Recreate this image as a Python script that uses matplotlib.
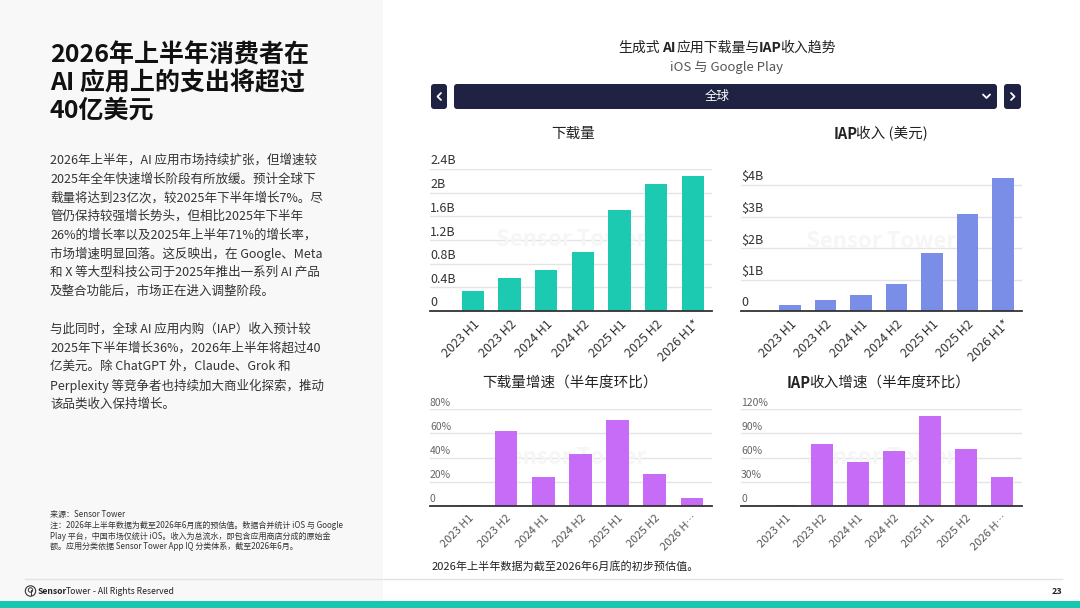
import matplotlib
matplotlib.use('Agg')
import matplotlib.pyplot as plt
from matplotlib.patches import Rectangle, FancyBboxPatch, Circle
from matplotlib import transforms
import numpy as np

plt.rcParams['font.family'] = ['Noto Sans CJK SC', 'DejaVu Sans']

# ---------------- data ----------------
periods = ["2023 H1", "2023 H2", "2024 H1", "2024 H2", "2025 H1", "2025 H2", "2026 H1*"]
growth_tick_labels = ["2023 H1", "2023 H2", "2024 H1", "2024 H2", "2025 H1", "2025 H2", "2026 H…"]
downloads_b = [0.34, 0.56, 0.70, 0.99, 1.70, 2.14, 2.29]
iap_revenue_b = [0.19, 0.34, 0.52, 0.87, 1.83, 3.09, 4.21]
download_growth_pct = [0.5, 62, 24, 43, 71, 26, 7]
iap_growth_pct = [1, 77, 54, 68, 111, 70, 36]

dl_ticks = [0, 0.4, 0.8, 1.2, 1.6, 2.0, 2.4]
dl_tick_labels = ["0", "0.4B", "0.8B", "1.2B", "1.6B", "2B", "2.4B"]
iap_ticks = [0, 1, 2, 3, 4]
iap_tick_labels = ["0", "$1B", "$2B", "$3B", "$4B"]
dlg_ticks = [0, 20, 40, 60, 80]
dlg_tick_labels = ["0", "20%", "40%", "60%", "80%"]
iapg_ticks = [0, 30, 60, 90, 120]
iapg_tick_labels = ["0", "30%", "60%", "90%", "120%"]

title_lines = ["2026年上半年消费者在", "AI 应用上的支出将超过", "40亿美元"]
para1 = ["2026年上半年，AI 应用市场持续扩张，但增速较",
         "2025年全年快速增长阶段有所放缓。预计全球下",
         "载量将达到23亿次，较2025年下半年增长7%。尽",
         "管仍保持较强增长势头，但相比2025年下半年",
         "26%的增长率以及2025年上半年71%的增长率，",
         "市场增速明显回落。这反映出，在 Google、Meta",
         "和 X 等大型科技公司于2025年推出一系列 AI 产品",
         "及整合功能后，市场正在进入调整阶段。"]
para2 = ["与此同时，全球 AI 应用内购（IAP）收入预计较",
         "2025年下半年增长36%，2026年上半年将超过40",
         "亿美元。除 ChatGPT 外，Claude、Grok 和",
         "Perplexity 等竞争者也持续加大商业化探索，推动",
         "该品类收入保持增长。"]
notes = ["来源：Sensor Tower",
         "注：2026年上半年数据为截至2026年6月底的预估值。数据合并统计 iOS 与 Google",
         "Play 平台，中国市场仅统计 iOS。收入为总流水，即包含应用商店分成的原始金",
         "额。应用分类依据 Sensor Tower App IQ 分类体系，截至2026年6月。"]

TEAL = '#1ccab1'
BLUE = '#7a8ee8'
PURPLE = '#c76cf7'
NAVY = '#1f2242'

W, H = 1080, 608
fig = plt.figure(figsize=(W / 100, H / 100), dpi=100)
fig.patch.set_facecolor('white')
renderer = fig.canvas.get_renderer()

bg = fig.add_axes([0, 0, 1, 1])
bg.set_xlim(0, W)
bg.set_ylim(H, 0)
bg.axis('off')


def seg_text(x, y, segs, fontsize, color, align='center'):
    """Draw text segments [(text, weight, gap_after_px)] side by side."""
    widths = []
    for s, w, g in segs:
        t = bg.text(0, 0, s, fontsize=fontsize, fontweight=w)
        widths.append(t.get_window_extent(renderer).width)
        t.remove()
    total = sum(widths) + sum(g for _, _, g in segs)
    cur = x - total / 2 if align == 'center' else x
    for (s, w, g), wd in zip(segs, widths):
        bg.text(cur, y, s, fontsize=fontsize, fontweight=w, color=color,
                ha='left', va='center')
        cur += wd + g


# left panel
bg.add_patch(Rectangle((0, 0), 383, 601, facecolor='#f8f8f8', edgecolor='none'))
# bottom teal strip
bg.add_patch(Rectangle((0, 601), W, 7, facecolor='#17c8b1', edgecolor='none'))
# footer line
bg.plot([25, 1062], [579, 579], color='#e3e3e3', lw=1)

# title
for i, line in enumerate(title_lines):
    bg.text(50, 55 + i * 28, line, fontsize=18, fontweight='bold', color='#111111',
            ha='left', va='center')
# body
for i, line in enumerate(para1):
    bg.text(50, 160 + i * 18.8, line, fontsize=9, color='#333333', ha='left', va='center')
for i, line in enumerate(para2):
    bg.text(50, 329 + i * 18.8, line, fontsize=9, color='#333333', ha='left', va='center')
for i, line in enumerate(notes):
    bg.text(50, 515 + i * 10.5, line, fontsize=5.8, color='#333333', ha='left', va='center')

# footer logo
bg.add_patch(Circle((30.5, 591), 5.2, facecolor='none', edgecolor='#333333', lw=0.8))
bg.add_patch(Circle((30.5, 590), 2.2, facecolor='none', edgecolor='#333333', lw=0.7))
bg.plot([30.5, 30.5], [590, 595], color='#333333', lw=0.7)
seg_text(38, 591, [("Sensor", 'bold', -1.5), ("Tower", 'normal', 1.5),
                   ("- All Rights Reserved", 'normal', 0)], 6.2, '#222222', align='left')
bg.text(1062, 591, "23", fontsize=6.5, fontweight='bold', color='#222222', ha='right', va='center')

# chart header
seg_text(727, 48, [("生成式", 'normal', 2.0), ("AI", 'bold', 1.0), ("应用下载量与", 'normal', -1.0),
                   ("IAP", 'bold', -2.0), ("收入趋势", 'normal', 0)], 10, '#222222')
bg.text(727, 67, "iOS 与 Google Play", fontsize=9.5, color='#555555', ha='center', va='center')


# dropdown & buttons
def rbox(x0, y0, x1, y1):
    bg.add_patch(FancyBboxPatch((x0, y0), x1 - x0, y1 - y0,
                                boxstyle="round,pad=0,rounding_size=3",
                                facecolor=NAVY, edgecolor='none'))


rbox(454, 84, 997, 109)
rbox(431, 84, 447, 109)
rbox(1004, 84, 1021, 109)
bg.text(717, 96.5, "全球", fontsize=9, color='white', ha='center', va='center')
bg.plot([441, 437.5, 441], [93, 96.5, 100], color='white', lw=1.3, solid_capstyle='round')
bg.plot([1011, 1014.5, 1011], [93, 96.5, 100], color='white', lw=1.3, solid_capstyle='round')
bg.plot([983, 986.5, 990], [94.5, 98, 94.5], color='white', lw=1.3, solid_capstyle='round')

# subplot titles
bg.text(573, 134, "下载量", fontsize=10.5, color='#222222', ha='center', va='center')
seg_text(881, 134, [("IAP", 'bold', -2.0), ("收入 (美元)", 'normal', 0)], 10.5, '#222222')
bg.text(570, 383, "下载量增速（半年度环比）", fontsize=10.5, color='#222222', ha='center', va='center')
seg_text(878, 383, [("IAP", 'bold', -2.0), ("收入增速（半年度环比）", 'normal', 0)], 10.5, '#222222')

bg.text(432, 566, "2026年上半年数据为截至2026年6月底的初步预估值。", fontsize=8, color='#222222',
        ha='left', va='center')


def px_axes(l, t, r, b):
    return fig.add_axes([l / W, 1 - b / H, (r - l) / W, (b - t) / H])


def bar_chart(l, t, r, b, values, ymax, ticks, tick_labels, color, xl, xr, xlabels,
              ytick_fs, ytick_color, xtick_fs, xtick_color):
    ax = px_axes(l, t, r, b)
    ax.set_facecolor('none')
    x = np.arange(len(values))
    ax.bar(x, values, width=0.61, color=color, zorder=3)
    ax.set_xlim(xl, xr)
    ax.set_ylim(0, ymax)
    for s in ['top', 'right', 'left']:
        ax.spines[s].set_visible(False)
    ax.spines['bottom'].set_color('#333333')
    ax.spines['bottom'].set_linewidth(1.3)
    ax.spines['bottom'].set_zorder(4)
    ax.set_yticks([])
    for v in ticks[1:]:
        ax.axhline(v, color='#e4e4e4', lw=1, zorder=1)
    trans = transforms.blended_transform_factory(ax.transAxes, ax.transData)
    trans = transforms.offset_copy(trans, fig=fig, x=0, y=1.5, units='dots')
    for v, lab in zip(ticks, tick_labels):
        ax.text(0, v, lab, transform=trans, ha='left', va='bottom', fontsize=ytick_fs,
                color=ytick_color, parse_math=False, clip_on=False)
    ax.set_xticks(x)
    ax.set_xticklabels(xlabels, rotation=45, ha='right', rotation_mode='anchor',
                       fontsize=xtick_fs, color=xtick_color)
    ax.tick_params(axis='x', length=0, pad=5)
    ax.text(0.5, 0.5, "Sensor Tower", transform=ax.transAxes, fontsize=16,
            fontweight='bold', color='#f6f6f6', ha='center', va='center', zorder=2)
    return ax


bar_chart(430, 169, 712, 311, downloads_b, 2.4, dl_ticks, dl_tick_labels, TEAL,
          -1.17, 6.52, periods, 9, '#333333', 9, '#333333')
bar_chart(741, 172.4, 1022, 311, iap_revenue_b, 4.4, iap_ticks, iap_tick_labels, BLUE,
          -1.38, 6.54, periods, 9, '#333333', 9, '#333333')
bar_chart(430, 409, 712, 506, download_growth_pct, 80, dlg_ticks, dlg_tick_labels, PURPLE,
          -1.05, 6.54, growth_tick_labels, 7.5, '#666666', 8, '#555555')
bar_chart(741, 409, 1022, 506, iap_growth_pct, 120, iapg_ticks, iapg_tick_labels, PURPLE,
          -1.25, 6.56, growth_tick_labels, 7.5, '#666666', 8, '#555555')

fig.savefig('out.png', dpi=100, facecolor='white')
